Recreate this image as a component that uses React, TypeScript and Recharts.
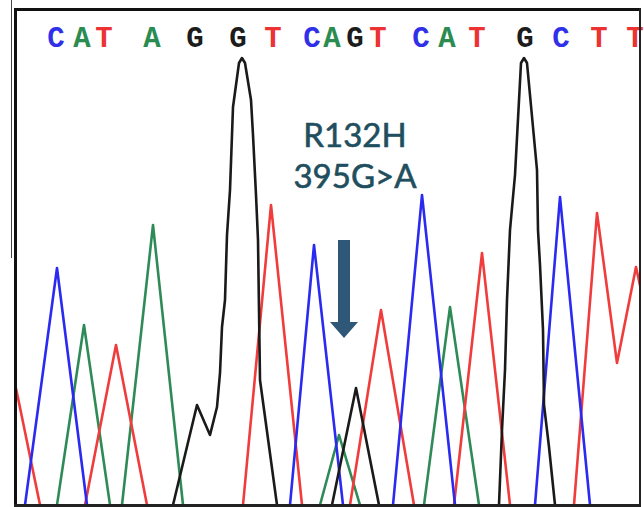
import { LineChart, Line, XAxis, YAxis, ReferenceDot, ReferenceLine } from 'recharts';

// scan position along the trace, signal height above the lower window edge
const TRACE_A = [
  { scan: -30, signal: -40 }, { scan: 41, signal: 0 }, { scan: 68, signal: 180 }, { scan: 94, signal: 0 },
  { scan: 100, signal: -40 }, { scan: 106, signal: 0 }, { scan: 137, signal: 280 }, { scan: 167, signal: 0 },
  { scan: 235, signal: -40 }, { scan: 304, signal: 0 }, { scan: 323, signal: 70 }, { scan: 344, signal: 0 },
  { scan: 376, signal: -40 }, { scan: 408, signal: 0 }, { scan: 434, signal: 198 }, { scan: 463, signal: 0 },
  { scan: 560, signal: -40 },
];

const TRACE_C = [
  { scan: -30, signal: -40 }, { scan: 9, signal: 0 }, { scan: 41, signal: 237 }, { scan: 71, signal: 0 },
  { scan: 170, signal: -40 }, { scan: 274, signal: 0 }, { scan: 298, signal: 260 }, { scan: 327, signal: 0 },
  { scan: 352, signal: -40 }, { scan: 377, signal: 0 }, { scan: 406, signal: 310 }, { scan: 439, signal: 0 },
  { scan: 480, signal: -40 }, { scan: 519, signal: 0 }, { scan: 544, signal: 308 }, { scan: 574, signal: 0 },
  { scan: 640, signal: -40 },
];

const TRACE_G = [
  { scan: -30, signal: -40 }, { scan: 157, signal: 0 }, { scan: 181, signal: 100 }, { scan: 194, signal: 70 },
  { scan: 201, signal: 98 }, { scan: 204, signal: 132 }, { scan: 206, signal: 178 }, { scan: 209, signal: 205 },
  { scan: 211, signal: 270 }, { scan: 214, signal: 315 }, { scan: 217, signal: 398 }, { scan: 223, signal: 442 },
  { scan: 226, signal: 447 }, { scan: 229, signal: 442 },
  { scan: 235, signal: 405 }, { scan: 237, signal: 370 }, { scan: 240, signal: 310 }, { scan: 242, signal: 265 },
  { scan: 244, signal: 125 }, { scan: 261, signal: 0 }, { scan: 290, signal: -40 }, { scan: 316, signal: 0 },
  { scan: 340, signal: 117 }, { scan: 363, signal: 0 }, { scan: 420, signal: -40 }, { scan: 483, signal: 0 },
  { scan: 486, signal: 75 }, { scan: 489, signal: 135 }, { scan: 491, signal: 205 }, { scan: 494, signal: 275 },
  { scan: 499, signal: 330 }, { scan: 505, signal: 442 }, { scan: 508, signal: 447 }, { scan: 511, signal: 442 },
  { scan: 521, signal: 335 }, { scan: 522, signal: 275 },
  { scan: 524, signal: 240 }, { scan: 527, signal: 175 }, { scan: 528, signal: 100 }, { scan: 533, signal: 58 },
  { scan: 539, signal: 0 }, { scan: 640, signal: -40 },
];

const TRACE_T = [
  { scan: -10, signal: 160 }, { scan: 1, signal: 112 }, { scan: 24, signal: 0 }, { scan: 50, signal: -40 },
  { scan: 69, signal: 0 }, { scan: 100, signal: 160 }, { scan: 131, signal: 0 }, { scan: 180, signal: -40 },
  { scan: 227, signal: 0 }, { scan: 255, signal: 300 }, { scan: 286, signal: 0 }, { scan: 310, signal: -40 },
  { scan: 334, signal: 0 }, { scan: 365, signal: 195 }, { scan: 398, signal: 0 }, { scan: 416, signal: -40 },
  { scan: 438, signal: 0 }, { scan: 466, signal: 252 }, { scan: 494, signal: 0 }, { scan: 525, signal: -40 },
  { scan: 558, signal: 0 }, { scan: 581, signal: 292 }, { scan: 601, signal: 142 }, { scan: 620, signal: 238 },
  { scan: 625, signal: 215 }, { scan: 650, signal: 0 },
];

const BASE_CALLS = ['C', 'A', 'T', 'A', 'G', 'G', 'T', 'C', 'A', 'G', 'T', 'C', 'A', 'T', 'G', 'C', 'T', 'T'];
const BASE_POS = [40, 66, 88, 136, 179, 222, 257, 296, 316, 339, 362, 405, 431, 461, 509, 545, 583, 619];

const BASE_COLORS: Record<string, string> = {
  A: '#2a8c50',
  C: '#3030e8',
  G: '#1c1c1c',
  T: '#ec3232',
};

const NOTE_LINES = ['R132H', '395G>A'];

function BaseTick(props: any) {
  const { x, y, payload } = props;
  const letter = BASE_CALLS[BASE_POS.indexOf(payload.value)];
  return (
    <text
      x={x}
      y={y + 38}
      textAnchor="middle"
      fill={BASE_COLORS[letter]}
      fontFamily="'Liberation Mono', monospace"
      fontWeight="bold"
      fontSize={29}
    >
      {letter}
    </text>
  );
}

function Note(props: any) {
  const { cx, cy } = props;
  return (
    <text
      x={cx}
      y={cy}
      textAnchor="middle"
      fill="#1f4f5e"
      stroke="#1f4f5e"
      strokeWidth={0.6}
      fontFamily="Lato, sans-serif"
      fontSize={33}
    >
      {NOTE_LINES.map((line, i) => (
        <tspan key={line} x={cx} dy={i === 0 ? 0 : 41}>
          {line}
        </tspan>
      ))}
    </text>
  );
}

function ArrowHead(props: any) {
  const { cx, cy } = props;
  return <polygon points={`${cx - 14},${cy - 16} ${cx + 14},${cy - 16} ${cx},${cy}`} fill="#2f5878" />;
}

const lineProps = {
  dataKey: 'signal',
  strokeWidth: 2.6,
  strokeLinejoin: 'round' as const,
  dot: false,
  activeDot: false,
  isAnimationActive: false,
};

export default function App() {
  return (
    <div style={{ position: 'absolute', left: 0, top: 0, width: 644, height: 507, background: '#fff' }}>
      <LineChart width={644} height={507} margin={{ top: 0, right: 4, bottom: 2, left: 16 }}>
        <XAxis
          type="number"
          dataKey="scan"
          orientation="top"
          domain={[0, 624]}
          allowDataOverflow
          ticks={BASE_POS}
          tick={BaseTick}
          tickSize={0}
          tickMargin={0}
          axisLine={false}
          tickLine={false}
          height={9}
          interval={0}
        />
        <YAxis type="number" domain={[0, 496]} allowDataOverflow hide />
        <Line data={TRACE_A} stroke="#2e8b57" {...lineProps} />
        <Line data={TRACE_T} stroke="#f03c3c" {...lineProps} />
        <Line data={TRACE_C} stroke="#2a2af0" {...lineProps} />
        <Line data={TRACE_G} stroke="#1a1a1a" {...lineProps} />
        <ReferenceLine segment={[{ x: 328, y: 265 }, { x: 328, y: 182 }]} stroke="#2f5878" strokeWidth={12} />
        <ReferenceDot x={328} y={167} shape={ArrowHead} />
        <ReferenceDot x={339} y={358} shape={Note} />
      </LineChart>
      <div style={{ position: 'absolute', left: 0, top: 0, width: 14, height: 507, background: '#fff' }} />
      <div style={{ position: 'absolute', left: 11, top: 0, width: 1, height: 258, background: '#444' }} />
      <div style={{ position: 'absolute', left: 14, top: 9, width: 3, height: 498, background: '#111' }} />
      <div style={{ position: 'absolute', left: 14, top: 8, width: 627, height: 3, background: '#111' }} />
      <div style={{ position: 'absolute', left: 639, top: 8, width: 2, height: 499, background: '#222' }} />
      <div style={{ position: 'absolute', left: 14, top: 504, width: 627, height: 3, background: '#222' }} />
    </div>
  );
}
